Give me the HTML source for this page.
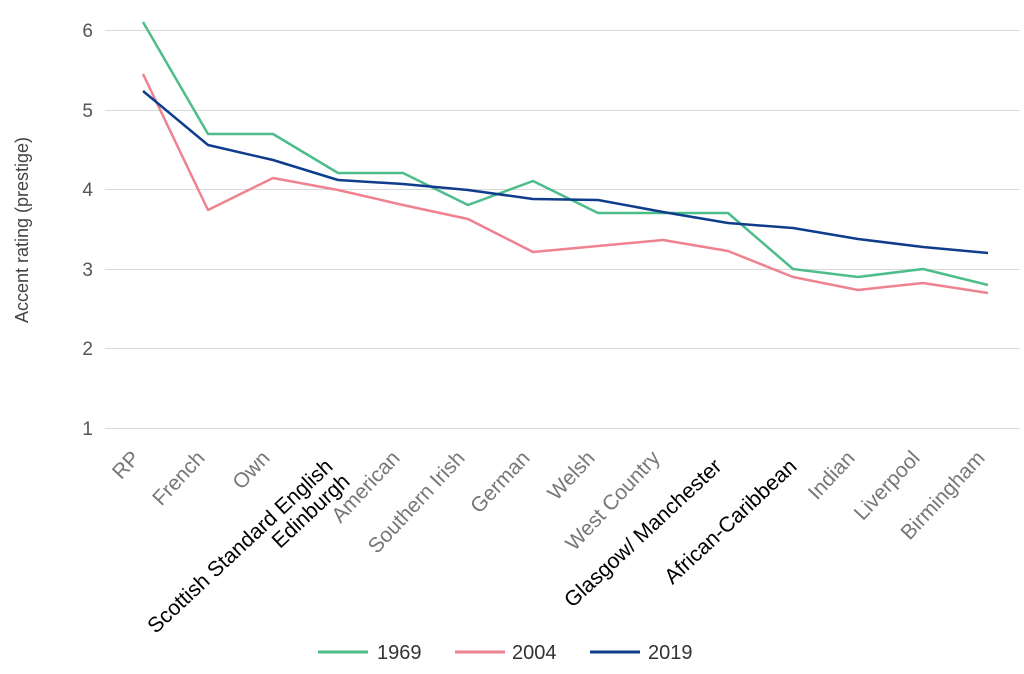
<!DOCTYPE html>
<html><head><meta charset="utf-8"><style>body{margin:0;background:#fff}</style></head><body>
<svg width="1024" height="669" xmlns="http://www.w3.org/2000/svg" font-family="Liberation Sans, sans-serif">
<g stroke="#d9d9d9" stroke-width="1">
<line x1="105" x2="1020" y1="30.5" y2="30.5"/><line x1="105" x2="1020" y1="110.5" y2="110.5"/><line x1="105" x2="1020" y1="189.5" y2="189.5"/><line x1="105" x2="1020" y1="269.5" y2="269.5"/><line x1="105" x2="1020" y1="348.5" y2="348.5"/><line x1="105" x2="1020" y1="428.5" y2="428.5"/>
</g>
<g fill="#555" font-size="19" text-anchor="end">
<text x="93" y="37">6</text><text x="93" y="117">5</text><text x="93" y="196">4</text><text x="93" y="276">3</text><text x="93" y="355">2</text><text x="93" y="435">1</text>
</g>
<text transform="translate(28,230) rotate(-90)" text-anchor="middle" font-size="18" fill="#444">Accent rating (prestige)</text>
<g fill="#777" font-size="21" text-anchor="end">
<text transform="translate(141,459) rotate(-47)">RP</text>
<text transform="translate(206,459) rotate(-47)">French</text>
<text transform="translate(271,459) rotate(-47)">Own</text>
<text transform="translate(401,459) rotate(-47)">American</text>
<text transform="translate(466,459) rotate(-47)">Southern Irish</text>
<text transform="translate(531,459) rotate(-47)">German</text>
<text transform="translate(596,459) rotate(-47)">Welsh</text>
<text transform="translate(661,459) rotate(-47)">West Country</text>
<text transform="translate(856,459) rotate(-47)">Indian</text>
<text transform="translate(921,459) rotate(-47)">Liverpool</text>
<text transform="translate(986,459) rotate(-47)">Birmingham</text>
</g>
<g fill="#000" font-size="21.3" text-anchor="end">
<text transform="translate(334,468) rotate(-43)">Scottish Standard English</text>
<text transform="translate(351,483) rotate(-43)">Edinburgh</text>
<text transform="translate(723,468) rotate(-43)">Glasgow/ Manchester</text>
<text transform="translate(798,468) rotate(-43)">African-Caribbean</text>
</g>
<g fill="none" stroke-width="2.5" stroke-linejoin="round">
<polyline stroke="#4dbd8a" points="143,22 208,134 273,134 338,173 403,173 468,205 533,181 598,213 663,213 728,213 793,269 858,277 923,269 988,285"/>
<polyline stroke="#ef8290" points="143,74 208,210 273,178 338,190 403,205 468,219 533,252 598,246 663,240 728,251 793,277 858,290 923,283 988,293"/>
<polyline stroke="#0f3d8c" points="143,91 208,145 273,160 338,180 403,184 468,190 533,199 598,200 663,212 728,223 793,228 858,239 923,247 988,253"/>
</g>
<line x1="318" x2="368" y1="652" y2="652" stroke="#4dbd8a" stroke-width="3"/>
<line x1="455" x2="505" y1="652" y2="652" stroke="#ef8290" stroke-width="3"/>
<line x1="590" x2="640" y1="652" y2="652" stroke="#0f3d8c" stroke-width="3"/>
<g font-size="20" fill="#333"><text x="377" y="659">1969</text><text x="512" y="659">2004</text><text x="648" y="659">2019</text></g>
</svg>
</body></html>
